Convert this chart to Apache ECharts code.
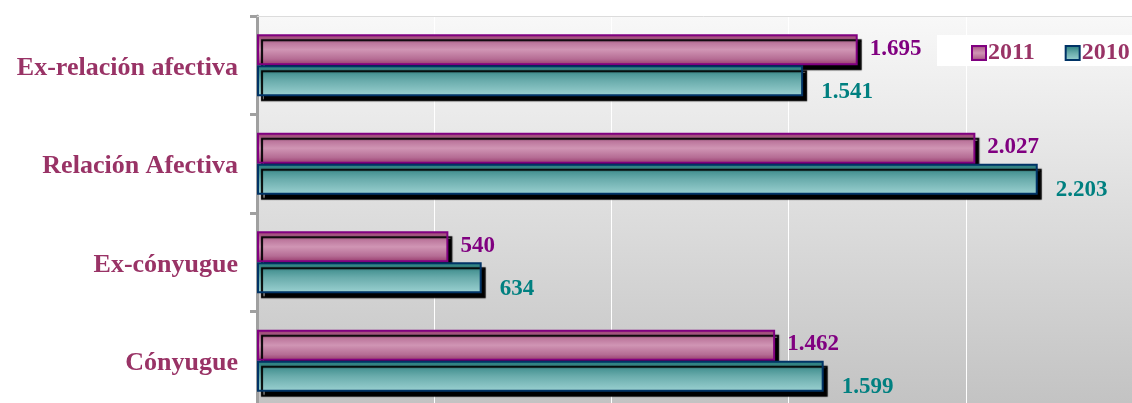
<!DOCTYPE html>
<html><head><meta charset="utf-8">
<script src="https://cdn.jsdelivr.net/npm/echarts@6/dist/echarts.min.js"></script>
<style>html,body{margin:0;padding:0;background:#fff;overflow:hidden}#c{width:1150px;height:420px}</style>
</head><body><div id="c"></div>
<script>
var categories = ['Ex-relación afectiva', 'Relación Afectiva', 'Ex-cónyugue', 'Cónyugue'];
var values2011 = [1695, 2027, 540, 1462];
var values2010 = [1541, 2203, 634, 1599];
var seriesNames = ['2011', '2010'];

function fmt(v) {
  var s = String(v);
  return s.length > 3 ? s.slice(0, s.length - 3) + '.' + s.slice(s.length - 3) : s;
}
var G = echarts.graphic.LinearGradient;
var pinkFill = new G(0, 0, 0, 1, [
  {offset: 0, color: '#95356a'}, {offset: 0.2, color: '#b56c94'},
  {offset: 0.5, color: '#d095b4'}, {offset: 0.8, color: '#b56c94'},
  {offset: 1, color: '#95356a'}]);
var tealFill = new G(0, 0, 0, 1, [
  {offset: 0, color: '#247a7a'}, {offset: 0.5, color: '#6aacac'},
  {offset: 1, color: '#9cd2d2'}]);

var chart = echarts.init(document.getElementById('c'), null, {renderer: 'canvas'});
chart.setOption({
  animation: false,
  backgroundColor: '#ffffff',
  grid: {left: 257, right: 7, top: 16, bottom: 10, show: true, borderWidth: 0,
    backgroundColor: new G(0, 0, 0, 1, [{offset: 0, color: '#f8f8f8'}, {offset: 1, color: '#c2c2c2'}])},
  graphic: [
    {type: 'line', shape: {x1: 257, y1: 16.5, x2: 1150, y2: 16.5}, style: {stroke: '#dcdcdc', lineWidth: 1}, z: 1},
    {type: 'rect', left: 937, top: 35, shape: {width: 200, height: 31}, style: {fill: '#ffffff'}, z: 5}
  ],
  legend: {
    data: seriesNames, left: 966, top: 36, itemWidth: 14, itemHeight: 14, itemGap: 30, icon: 'rect',
    z: 10,
    textStyle: {fontFamily: 'Liberation Serif', fontWeight: 'bold', fontSize: 24, color: '#993366', padding: [2, 0, 0, -3]}
  },
  xAxis: {
    type: 'value', min: 0, max: 2500, interval: 500,
    axisLabel: {show: false}, axisLine: {show: false}, axisTick: {show: false},
    splitLine: {show: true, lineStyle: {color: '#ffffff', width: 1}}
  },
  yAxis: {
    type: 'category', data: categories, inverse: true,
    axisLine: {show: true, lineStyle: {color: '#a0a0a0', width: 3}},
    axisTick: {show: true, length: 7, lineStyle: {color: '#a0a0a0', width: 3}},
    axisLabel: {margin: 19, verticalAlign: 'top', lineHeight: 6, fontFamily: 'Liberation Serif', fontWeight: 'bold', fontSize: 26, color: '#993366'}
  },
  series: [
    {
      name: seriesNames[0], type: 'bar', data: values2011, barWidth: 31, barGap: '0%',
      itemStyle: {color: pinkFill, borderColor: '#800080', borderWidth: 2,
        shadowColor: '#000', shadowOffsetX: 4, shadowOffsetY: 5, shadowBlur: 1},
      label: {show: true, position: 'right', distance: 12, offset: [0, -1],
        formatter: function (p) { return fmt(p.value); },
        fontFamily: 'Liberation Serif', fontWeight: 'bold', fontSize: 23, color: '#800080'}
    },
    {
      name: seriesNames[1], type: 'bar', data: values2010, barWidth: 31, barGap: '0%',
      itemStyle: {color: tealFill, borderColor: '#003366', borderWidth: 2,
        shadowColor: '#000', shadowOffsetX: 4, shadowOffsetY: 5, shadowBlur: 1},
      label: {show: true, position: 'right', distance: 18, offset: [0, 11],
        formatter: function (p) { return fmt(p.value); },
        fontFamily: 'Liberation Serif', fontWeight: 'bold', fontSize: 23, color: '#008080'}
    }
  ]
});
</script></body></html>
